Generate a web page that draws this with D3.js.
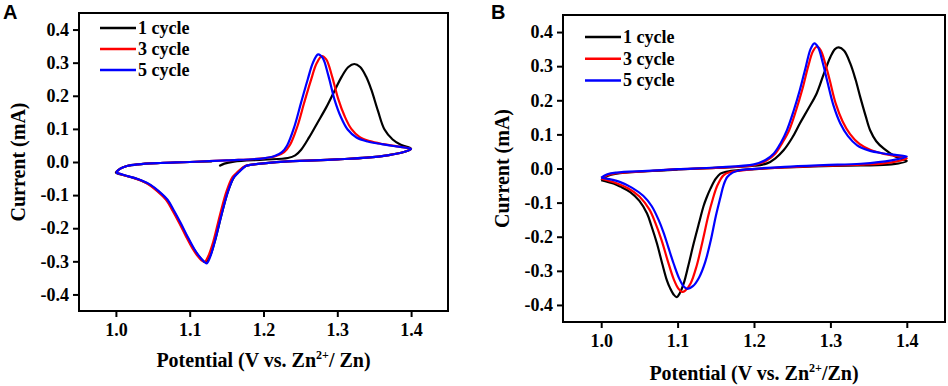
<!DOCTYPE html>
<html>
<head>
<meta charset="utf-8">
<script src="https://cdn.jsdelivr.net/npm/d3@7"></script>
<style>
  body { margin: 0; background: #fff; }
  svg text { font-family: "Liberation Serif", "Times New Roman", serif; font-weight: bold; fill: #000; }
</style>
</head>
<body>
<svg id="chart" width="948" height="386"></svg>
<script>
// ---- data: [potential V, current mA], traced around each CV loop ----
const xTicks = [1.0, 1.1, 1.2, 1.3, 1.4];
const yTicks = [-0.4, -0.3, -0.2, -0.1, 0.0, 0.1, 0.2, 0.3, 0.4];
const legendLabels = ["1 cycle", "3 cycle", "5 cycle"];
const seriesColors = ["#000000", "#ff0000", "#0000ff"];

const cvA1 = [
  [1.140,-0.012],[1.147,-0.005],[1.160,0.001],[1.200,0.007],[1.233,0.012],[1.243,0.020],
  [1.251,0.037],[1.262,0.075],[1.273,0.118],[1.285,0.165],[1.296,0.214],[1.306,0.258],
  [1.315,0.287],[1.323,0.296],[1.331,0.287],[1.339,0.258],[1.346,0.219],[1.355,0.155],
  [1.364,0.098],[1.375,0.068],[1.386,0.052],[1.400,0.040],
  [1.390,0.030],[1.370,0.021],[1.340,0.013],[1.300,0.008],[1.260,0.004],[1.233,0.002],
  [1.200,-0.004],[1.185,-0.008],[1.176,-0.012],[1.167,-0.028],[1.160,-0.046],[1.152,-0.088],
  [1.143,-0.160],[1.134,-0.240],[1.127,-0.286],[1.121,-0.302],[1.117,-0.296],[1.111,-0.281],
  [1.105,-0.261],[1.096,-0.224],[1.087,-0.185],[1.078,-0.148],[1.069,-0.114],[1.057,-0.088],
  [1.046,-0.069],[1.034,-0.056],[1.024,-0.048],[1.011,-0.040],[1.000,-0.032],
  [1.006,-0.020],[1.015,-0.012],[1.030,-0.007],[1.060,-0.003],[1.100,0.000],[1.130,0.002]
];
const cvA3 = [
  [1.000,-0.032],[1.006,-0.020],[1.015,-0.012],[1.030,-0.007],[1.060,-0.003],[1.100,0.000],
  [1.150,0.005],[1.200,0.011],[1.217,0.018],[1.228,0.030],[1.236,0.052],[1.246,0.108],
  [1.255,0.178],[1.264,0.245],[1.272,0.298],[1.279,0.320],[1.285,0.310],[1.293,0.258],
  [1.301,0.192],[1.310,0.138],[1.319,0.100],[1.330,0.076],[1.344,0.063],[1.362,0.054],
  [1.381,0.047],[1.400,0.039],
  [1.390,0.030],[1.370,0.021],[1.340,0.013],[1.300,0.008],[1.260,0.004],[1.233,0.002],
  [1.200,-0.004],[1.185,-0.008],[1.175,-0.012],[1.165,-0.030],[1.158,-0.046],[1.150,-0.088],
  [1.141,-0.160],[1.132,-0.240],[1.125,-0.285],[1.120,-0.302],[1.116,-0.297],[1.110,-0.282],
  [1.104,-0.262],[1.095,-0.225],[1.086,-0.185],[1.077,-0.148],[1.068,-0.114],[1.056,-0.088],
  [1.045,-0.069],[1.034,-0.056],[1.024,-0.048],[1.011,-0.040],[1.000,-0.032]
];
const cvA5 = [
  [1.000,-0.032],[1.006,-0.020],[1.015,-0.012],[1.030,-0.007],[1.060,-0.003],[1.100,0.000],
  [1.150,0.005],[1.200,0.011],[1.215,0.018],[1.225,0.030],[1.232,0.050],[1.242,0.108],
  [1.251,0.180],[1.260,0.250],[1.267,0.300],[1.274,0.325],[1.280,0.315],[1.288,0.260],
  [1.296,0.190],[1.305,0.135],[1.314,0.098],[1.326,0.074],[1.341,0.062],[1.360,0.054],
  [1.380,0.047],[1.400,0.039],
  [1.390,0.030],[1.370,0.021],[1.340,0.013],[1.300,0.008],[1.260,0.004],[1.233,0.002],
  [1.200,-0.004],[1.185,-0.008],[1.176,-0.012],[1.167,-0.030],[1.160,-0.046],[1.152,-0.088],
  [1.143,-0.160],[1.134,-0.240],[1.128,-0.285],[1.123,-0.306],[1.119,-0.300],[1.112,-0.282],
  [1.106,-0.262],[1.097,-0.225],[1.088,-0.185],[1.079,-0.148],[1.070,-0.114],[1.058,-0.088],
  [1.047,-0.069],[1.035,-0.056],[1.025,-0.048],[1.012,-0.040],[1.000,-0.032]
];

const cvB1 = [
  [1.000,-0.034],[1.008,-0.022],[1.020,-0.015],[1.060,-0.008],[1.100,-0.003],[1.150,0.002],
  [1.200,0.008],[1.217,0.015],[1.228,0.030],[1.239,0.054],[1.250,0.090],[1.260,0.132],
  [1.271,0.175],[1.282,0.220],[1.291,0.275],[1.300,0.327],[1.306,0.350],[1.311,0.355],
  [1.318,0.345],[1.326,0.308],[1.333,0.260],[1.339,0.210],[1.346,0.155],[1.352,0.112],
  [1.360,0.080],[1.370,0.058],[1.385,0.035],[1.400,0.022],
  [1.380,0.012],[1.340,0.009],[1.291,0.007],[1.240,0.003],[1.200,-0.002],[1.180,-0.005],
  [1.165,-0.009],[1.156,-0.015],[1.150,-0.030],[1.143,-0.059],[1.138,-0.085],[1.134,-0.110],
  [1.128,-0.160],[1.121,-0.220],[1.114,-0.285],[1.108,-0.337],[1.103,-0.365],[1.099,-0.377],
  [1.095,-0.370],[1.090,-0.350],[1.086,-0.328],[1.080,-0.280],[1.073,-0.220],[1.066,-0.170],
  [1.060,-0.132],[1.050,-0.095],[1.038,-0.069],[1.025,-0.053],[1.016,-0.044],[1.000,-0.034]
];
const cvB3 = [
  [1.000,-0.030],[1.008,-0.020],[1.020,-0.014],[1.060,-0.008],[1.100,-0.002],[1.150,0.002],
  [1.200,0.010],[1.217,0.024],[1.228,0.044],[1.237,0.075],[1.246,0.112],[1.255,0.170],
  [1.263,0.230],[1.271,0.300],[1.277,0.343],[1.282,0.357],[1.287,0.348],[1.293,0.310],
  [1.299,0.260],[1.307,0.190],[1.316,0.138],[1.326,0.100],[1.338,0.072],[1.352,0.055],
  [1.370,0.043],[1.385,0.037],[1.400,0.030],
  [1.380,0.018],[1.340,0.011],[1.291,0.008],[1.240,0.003],[1.200,-0.002],[1.182,-0.006],
  [1.168,-0.011],[1.160,-0.020],[1.152,-0.050],[1.146,-0.090],[1.140,-0.140],[1.133,-0.210],
  [1.125,-0.285],[1.117,-0.337],[1.110,-0.358],[1.106,-0.362],[1.101,-0.352],[1.095,-0.325],
  [1.087,-0.270],[1.079,-0.210],[1.071,-0.160],[1.063,-0.120],[1.050,-0.082],[1.035,-0.058],
  [1.020,-0.043],[1.000,-0.030]
];
const cvB5 = [
  [1.000,-0.027],[1.008,-0.017],[1.020,-0.012],[1.060,-0.007],[1.100,-0.002],[1.150,0.003],
  [1.200,0.012],[1.215,0.025],[1.226,0.044],[1.235,0.075],[1.243,0.112],[1.252,0.170],
  [1.260,0.230],[1.268,0.300],[1.274,0.350],[1.279,0.367],[1.284,0.355],[1.290,0.310],
  [1.296,0.255],[1.304,0.185],[1.313,0.132],[1.323,0.095],[1.335,0.068],[1.350,0.053],
  [1.370,0.044],[1.385,0.040],[1.400,0.035],
  [1.380,0.024],[1.340,0.014],[1.291,0.010],[1.240,0.005],[1.200,-0.001],[1.182,-0.005],
  [1.172,-0.012],[1.165,-0.025],[1.160,-0.050],[1.156,-0.085],[1.150,-0.140],[1.143,-0.215],
  [1.136,-0.275],[1.128,-0.320],[1.120,-0.345],[1.113,-0.353],[1.108,-0.346],[1.102,-0.322],
  [1.095,-0.280],[1.088,-0.232],[1.082,-0.190],[1.075,-0.150],[1.066,-0.110],[1.055,-0.080],
  [1.040,-0.056],[1.025,-0.040],[1.010,-0.031],[1.000,-0.027]
];

const svg = d3.select("#chart");

function drawPanel(opt) {
  const x = d3.scaleLinear().domain([0.95, 1.45]).range([opt.left, opt.right]);
  const y = d3.scaleLinear().domain([-0.45, 0.45]).range([opt.bottom, opt.top]);
  const g = svg.append("g");

  const line = d3.line()
    .x(d => x(d[0]))
    .y(d => y(d[1]))
    .curve(d3.curveCatmullRom.alpha(0.5));

  opt.series.forEach((s, i) => {
    g.append("path")
      .attr("d", line(s))
      .attr("fill", "none")
      .attr("stroke", seriesColors[i])
      .attr("stroke-width", 2.2)
      .attr("stroke-linejoin", "round");
  });

  // axes
  const fmt = d => d.toFixed(1);
  const xAxis = g.append("g")
    .attr("transform", `translate(0,${opt.bottom})`)
    .call(d3.axisBottom(x).tickValues(xTicks).tickFormat(fmt).tickSize(6).tickPadding(6));
  const yAxis = g.append("g")
    .attr("transform", `translate(${opt.left},0)`)
    .call(d3.axisLeft(y).tickValues(yTicks).tickFormat(fmt).tickSize(6).tickPadding(4));
  [xAxis, yAxis].forEach(a => {
    a.select(".domain").remove();
    a.selectAll(".tick line").attr("stroke", "#000").attr("stroke-width", 2);
    a.selectAll(".tick text").style("font-size", "18px");
  });

  g.append("rect")
    .attr("x", opt.left).attr("y", opt.top)
    .attr("width", opt.right - opt.left).attr("height", opt.bottom - opt.top)
    .attr("fill", "none").attr("stroke", "#000").attr("stroke-width", 2);

  // legend
  legendLabels.forEach((name, i) => {
    const ly = opt.legendY + i * opt.legendStep;
    g.append("line")
      .attr("x1", opt.legendX).attr("x2", opt.legendX + 36)
      .attr("y1", ly).attr("y2", ly)
      .attr("stroke", seriesColors[i]).attr("stroke-width", 2.5);
    g.append("text")
      .attr("x", opt.legendX + 38).attr("y", ly + 6)
      .style("font-size", "18px")
      .text(name);
  });

  // axis titles
  const xt = g.append("text")
    .attr("x", (opt.left + opt.right) / 2)
    .attr("y", opt.xTitleY)
    .attr("text-anchor", "middle")
    .style("font-size", "20px");
  xt.append("tspan").text("Potential (V vs. Zn");
  xt.append("tspan").attr("dy", -8).style("font-size", "12px").text("2+");
  xt.append("tspan").attr("dy", 8).text(opt.slash);

  g.append("text")
    .attr("transform", `translate(${opt.yTitleX},${(opt.top + opt.bottom) / 2}) rotate(-90)`)
    .attr("text-anchor", "middle")
    .style("font-size", "20px")
    .text("Current (mA)");

  g.append("text")
    .attr("x", opt.letterX).attr("y", 19)
    .style("font-family", "'Liberation Sans', Arial, sans-serif")
    .style("font-size", "20px")
    .text(opt.letter);
}

drawPanel({
  left: 79, right: 448, top: 13, bottom: 311,
  series: [cvA1, cvA3, cvA5],
  legendX: 100, legendY: 28, legendStep: 21,
  xTitleY: 367, yTitleX: 25, slash: "/ Zn)",
  letter: "A", letterX: 3
});
drawPanel({
  left: 563, right: 945, top: 15, bottom: 322,
  series: [cvB1, cvB3, cvB5],
  legendX: 585, legendY: 37, legendStep: 21.7,
  xTitleY: 380, yTitleX: 509, slash: "/Zn)",
  letter: "B", letterX: 491
});
</script>
</body>
</html>
